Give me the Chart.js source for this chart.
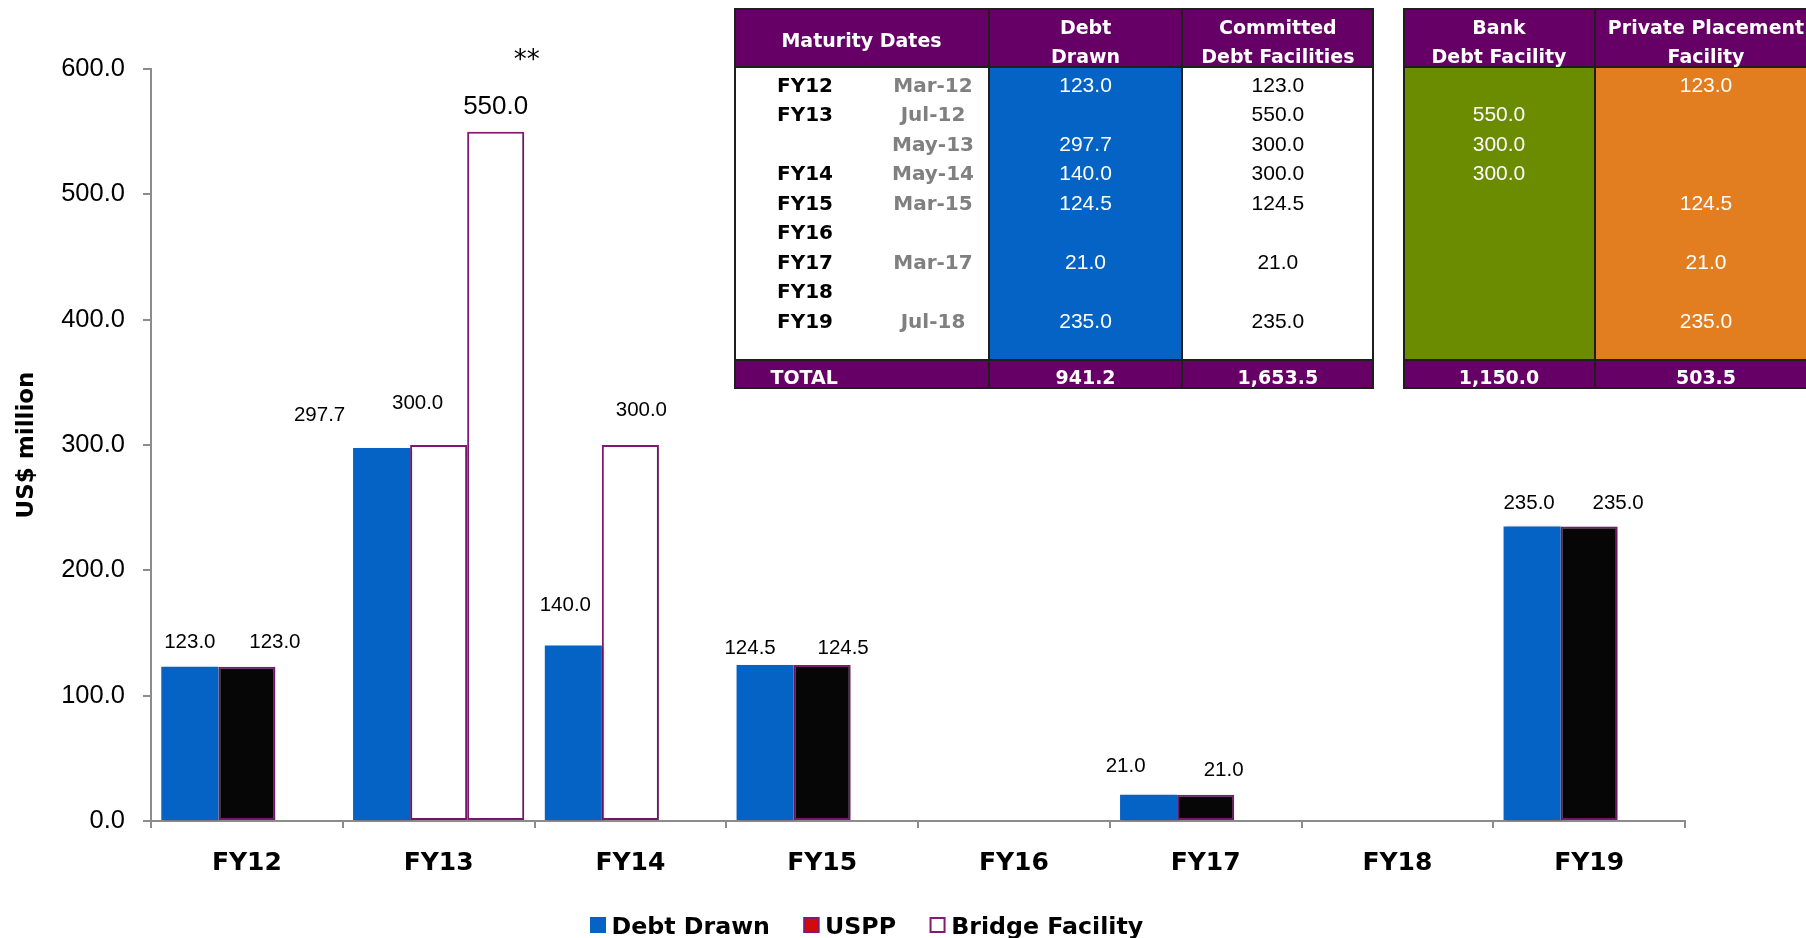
<!DOCTYPE html>
<html>
<head>
<meta charset="utf-8">
<title>Debt maturity profile</title>
<script src="https://cdn.jsdelivr.net/npm/chart.js@4.4.1/dist/chart.umd.min.js"></script>
<style>
  html, body { margin: 0; padding: 0; background: #fff; overflow: hidden; }
  #wrap { position: relative; width: 1806px; height: 938px; overflow: hidden; }
  #chart { position: absolute; left: 0; top: 0; }
  #tables { position: absolute; left: 0; top: 0; width: 1806px; height: 938px; pointer-events: none; }
  .cell { position: absolute; box-sizing: border-box; }
  .txt { position: absolute; text-align: center; white-space: nowrap; height: 30px; line-height: 30px; }
  .head { font: bold 19px "DejaVu Sans", sans-serif; color: #fff; }
  .yr { font: bold 20px "DejaVu Sans", sans-serif; color: #000; }
  .dt { font: bold 20px "DejaVu Sans", sans-serif; color: #808080; }
  .num { font: 21px "Liberation Sans", Arial, sans-serif; }
  .tot { font: bold 19px "DejaVu Sans", sans-serif; color: #fff; }
</style>
</head>
<body>
<div id="wrap">
  <canvas id="chart" width="1806" height="938"></canvas>
  <div id="tables"></div>
</div>
<script>
// ---- Chart data -------------------------------------------------------
const categories = ['FY12', 'FY13', 'FY14', 'FY15', 'FY16', 'FY17', 'FY18', 'FY19'];
const debtDrawn = [123.0, 297.7, 140.0, 124.5, null, 21.0, null, 235.0];
const usppFacility = [123.0, null, null, 124.5, null, 21.0, null, 235.0];
const bridgeFirst = [null, 300.0, 300.0, null, null, null, null, null];
const bridgeSecond = [null, 550.0, null, null, null, null, null, null];
const yTickValues = [0, 100, 200, 300, 400, 500, 600];

// ---- Maturity table data ----------------------------------------------
const maturityYears = ['FY12', 'FY13', '', 'FY14', 'FY15', 'FY16', 'FY17', 'FY18', 'FY19'];
const maturityDates = ['Mar-12', 'Jul-12', 'May-13', 'May-14', 'Mar-15', '', 'Mar-17', '', 'Jul-18'];
const drawnByDate = [123.0, null, 297.7, 140.0, 124.5, null, 21.0, null, 235.0];
const committedByDate = [123.0, 550.0, 300.0, 300.0, 124.5, null, 21.0, null, 235.0];
const bankByDate = [null, 550.0, 300.0, 300.0, null, null, null, null, null];
const privateByDate = [123.0, null, null, null, 124.5, null, 21.0, null, 235.0];

const fmt = v => v.toLocaleString('en-US', { minimumFractionDigits: 1, maximumFractionDigits: 1 });
const total = arr => arr.reduce((s, v) => s + (v || 0), 0);

// ---- Colours ----------------------------------------------------------
const BLUE = '#0563C6';
const PURPLE_EDGE = '#801A72';
const HEAD = '#660066';
const GREEN = '#6B8C00';
const ORANGE = '#E37E20';
const AXIS = '#8C8C8C';

// ---- Tables (HTML overlay) --------------------------------------------
const host = document.getElementById('tables');
function box(x0, y0, x1, y1, bg) {
  const d = document.createElement('div');
  d.className = 'cell';
  Object.assign(d.style, { left: x0 + 'px', top: y0 + 'px', width: (x1 - x0) + 'px', height: (y1 - y0) + 'px', background: bg });
  host.appendChild(d);
}
function text(cx, cy, str, cls, color, align) {
  if (str === '' || str === null) return;
  const d = document.createElement('div');
  d.className = 'txt ' + cls;
  d.textContent = str;
  if (align === 'left') {
    Object.assign(d.style, { left: cx + 'px', top: (cy - 15) + 'px', textAlign: 'left' });
  } else {
    Object.assign(d.style, { left: (cx - 150) + 'px', width: '300px', top: (cy - 15) + 'px' });
  }
  if (color) d.style.color = color;
  host.appendChild(d);
}

const TOP = 8, HEAD_BOTTOM = 67, TOTAL_TOP = 360, BOTTOM = 389.3;
const LINE = '#1E1E1E';
const rowY = i => 87.6 + 29.5 * i;
const HEAD_LINE1 = 31, HEAD_LINE2 = 59.8, HEAD_SINGLE = 44;

function frame(x0, x1, dividers) {
  box(x0, TOP, x1, TOP + 2, LINE);
  box(x0, BOTTOM - 2, x1, BOTTOM, LINE);
  box(x0, HEAD_BOTTOM - 1, x1, HEAD_BOTTOM + 1, LINE);
  box(x0, TOTAL_TOP - 1, x1, TOTAL_TOP + 1, LINE);
  box(x0, TOP, x0 + 2, BOTTOM, LINE);
  box(x1 - 2, TOP, x1, BOTTOM, LINE);
  dividers.forEach(x => box(x - 1, TOP, x + 1, BOTTOM, LINE));
}

// Table 1: maturity dates, debt drawn, committed facilities
const c1 = [733.7, 989.4, 1181.7, 1374];
box(c1[0], TOP, c1[3], HEAD_BOTTOM, HEAD);
box(c1[0], HEAD_BOTTOM, c1[1], TOTAL_TOP, '#fff');
box(c1[1], HEAD_BOTTOM, c1[2], TOTAL_TOP, BLUE);
box(c1[2], HEAD_BOTTOM, c1[3], TOTAL_TOP, '#fff');
box(c1[0], TOTAL_TOP, c1[3], BOTTOM, HEAD);
frame(c1[0], c1[3], [c1[1], c1[2]]);

// Table 2: bank and private placement facilities
const c2 = [1403, 1595, 1817];
box(c2[0], TOP, c2[2], HEAD_BOTTOM, HEAD);
box(c2[0], HEAD_BOTTOM, c2[1], TOTAL_TOP, GREEN);
box(c2[1], HEAD_BOTTOM, c2[2], TOTAL_TOP, ORANGE);
box(c2[0], TOTAL_TOP, c2[2], BOTTOM, HEAD);
frame(c2[0], c2[2], [c2[1]]);

const mid = (a, b) => (a + b) / 2;
text(mid(c1[0], c1[1]), HEAD_SINGLE, 'Maturity Dates', 'head');
text(mid(c1[1], c1[2]), HEAD_LINE1, 'Debt', 'head');
text(mid(c1[1], c1[2]), HEAD_LINE2, 'Drawn', 'head');
text(mid(c1[2], c1[3]), HEAD_LINE1, 'Committed', 'head');
text(mid(c1[2], c1[3]), HEAD_LINE2, 'Debt Facilities', 'head');
text(mid(c2[0], c2[1]), HEAD_LINE1, 'Bank', 'head');
text(mid(c2[0], c2[1]), HEAD_LINE2, 'Debt Facility', 'head');
text(1706, HEAD_LINE1, 'Private Placement', 'head');
text(1706, HEAD_LINE2, 'Facility', 'head');

maturityYears.forEach((v, i) => text(805, rowY(i), v, 'yr'));
maturityDates.forEach((v, i) => text(933, rowY(i), v, 'dt'));
drawnByDate.forEach((v, i) => v !== null && text(mid(c1[1], c1[2]), rowY(i), fmt(v), 'num', '#fff'));
committedByDate.forEach((v, i) => v !== null && text(mid(c1[2], c1[3]), rowY(i), fmt(v), 'num', '#000'));
bankByDate.forEach((v, i) => v !== null && text(mid(c2[0], c2[1]), rowY(i), fmt(v), 'num', '#fff'));
privateByDate.forEach((v, i) => v !== null && text(1706, rowY(i), fmt(v), 'num', '#fff'));

const totalY = 381;
text(770.5, totalY, 'TOTAL', 'tot', null, 'left');
text(mid(c1[1], c1[2]), totalY, fmt(total(drawnByDate)), 'tot');
text(mid(c1[2], c1[3]), totalY, fmt(total(committedByDate)), 'tot');
text(mid(c2[0], c2[1]), totalY, fmt(total(bankByDate)), 'tot');
text(1706, totalY, fmt(total(privateByDate)), 'tot');

// ---- Plugins ----------------------------------------------------------
// soft drop shadow under the bars
const barShadow = {
  id: 'barShadow',
  beforeDatasetsDraw(chart) {
    const ctx = chart.ctx;
    ctx.save();
    ctx.shadowColor = 'rgba(0,0,0,0.25)';
    ctx.shadowBlur = 3;
    ctx.shadowOffsetX = 2;
    ctx.shadowOffsetY = 1;
  },
  afterDatasetsDraw(chart) { chart.ctx.restore(); }
};

// value labels above each bar, nudged individually
const valueLabels = {
  id: 'valueLabels',
  afterDatasetsDraw(chart, args, opts) {
    const ctx = chart.ctx;
    ctx.save();
    ctx.shadowColor = 'transparent';
    ctx.textAlign = 'center';
    ctx.textBaseline = 'middle';
    ctx.fillStyle = '#000';
    chart.data.datasets.forEach((ds, di) => {
      const meta = chart.getDatasetMeta(di);
      const shifts = opts.shifts[di];
      ds.data.forEach((v, i) => {
        if (v === null) return;
        const bar = meta.data[i];
        const s = shifts[i] || [0, -24];
        ctx.font = opts.large[di] ? opts.largeFont : opts.font;
        ctx.fillText(v.toFixed(1), bar.x + s[0], bar.y + s[1]);
      });
    });
    const m = opts.marker;
    const bar = chart.getDatasetMeta(m.dataset).data[m.index];
    ctx.font = opts.markerFont;
    ctx.fillText(m.text, bar.x + m.dx, bar.y + m.dy);
    ctx.restore();
  }
};

// legend row under the axis
const bottomLegend = {
  id: 'bottomLegend',
  afterDraw(chart, args, opts) {
    const ctx = chart.ctx;
    ctx.save();
    ctx.font = opts.font;
    ctx.textBaseline = 'alphabetic';
    ctx.textAlign = 'left';
    let x = opts.x;
    chart.data.datasets.forEach(ds => {
      if (ds.inLegend === false) return;
      const b = opts.box;
      ctx.fillStyle = ds.legendFill || ds.backgroundColor;
      ctx.fillRect(x, opts.boxTop, b, b);
      if (ds.borderWidth) {
        ctx.strokeStyle = ds.borderColor;
        ctx.lineWidth = 2;
        ctx.strokeRect(x + 1, opts.boxTop + 1, b - 2, b - 2);
      }
      x += b + opts.gap;
      ctx.fillStyle = '#000';
      ctx.fillText(ds.label, x, opts.baseline);
      x += ctx.measureText(ds.label).width + opts.spacing;
    });
    ctx.restore();
  }
};

// ---- Chart ------------------------------------------------------------
new Chart(document.getElementById('chart'), {
  type: 'bar',
  data: {
    labels: categories,
    datasets: [
      { label: 'Debt Drawn', data: debtDrawn, stack: 'drawn', backgroundColor: BLUE, borderWidth: 0 },
      { label: 'USPP', data: usppFacility, stack: 'second', backgroundColor: '#060606', borderColor: PURPLE_EDGE, borderWidth: 2, legendFill: '#D20A0A' },
      { label: 'Bridge Facility', data: bridgeFirst, stack: 'second', backgroundColor: '#ffffff', borderColor: PURPLE_EDGE, borderWidth: 2 },
      { label: 'Bridge Facility', data: bridgeSecond, stack: 'third', backgroundColor: '#ffffff', borderColor: PURPLE_EDGE, borderWidth: 2, inLegend: false }
    ]
  },
  options: {
    responsive: false,
    animation: false,
    devicePixelRatio: 1,
    layout: { padding: { top: 69, right: 121, bottom: 0, left: 0 } },
    datasets: {
      bar: { categoryPercentage: 0.8925, barPercentage: 1.0, borderSkipped: false, inflateAmount: 0 }
    },
    scales: {
      x: {
        offset: true,
        afterFit: s => { s.height = 117; },
        border: { display: true, color: AXIS, width: 2 },
        grid: { display: true, offset: true, drawOnChartArea: false, drawTicks: true, tickLength: 7, color: AXIS, lineWidth: 2 },
        ticks: { color: '#000', padding: 20, font: { family: 'DejaVu Sans', weight: 'bold', size: 25 } }
      },
      y: {
        min: 0,
        max: 600,
        afterFit: s => { s.width = 151; },
        afterBuildTicks: s => { s.ticks = yTickValues.map(v => ({ value: v })); },
        border: { display: true, color: AXIS, width: 2 },
        grid: { display: true, drawOnChartArea: false, drawTicks: true, tickLength: 8, color: AXIS, lineWidth: 2 },
        ticks: { color: '#000', padding: 18, font: { family: 'Liberation Sans', size: 25.5 }, callback: v => Number(v).toFixed(1) },
        title: { display: true, text: 'US$ million', color: '#000', padding: { top: 13, bottom: 0 }, font: { family: 'DejaVu Sans', weight: 'bold', size: 23 } }
      }
    },
    plugins: {
      legend: { display: false },
      tooltip: { enabled: false },
      valueLabels: {
        font: '20.5px "Liberation Sans", Arial, sans-serif',
        largeFont: '26px "Liberation Sans", Arial, sans-serif',
        markerFont: '26px "DejaVu Sans", sans-serif',
        large: [false, false, false, true],
        shifts: [
          [[0, -24], [-62, -33], [-8, -40], [-15, -17], null, [-23, -28], null, [-3, -23]],
          [[28, -24], null, null, [21, -17], null, [18, -24], null, [29, -23]],
          [null, [-21, -42], [11, -35], null, null, null, null, null],
          [null, [0, -25], null, null, null, null, null, null]
        ],
        marker: { dataset: 3, index: 1, text: '**', dx: 31, dy: -70 }
      },
      bottomLegend: {
        font: 'bold 23.7px "DejaVu Sans", sans-serif',
        x: 590, box: 16, boxTop: 917, gap: 5.6, spacing: 33.5, baseline: 934
      }
    }
  },
  plugins: [barShadow, valueLabels, bottomLegend]
});
</script>
</body>
</html>
